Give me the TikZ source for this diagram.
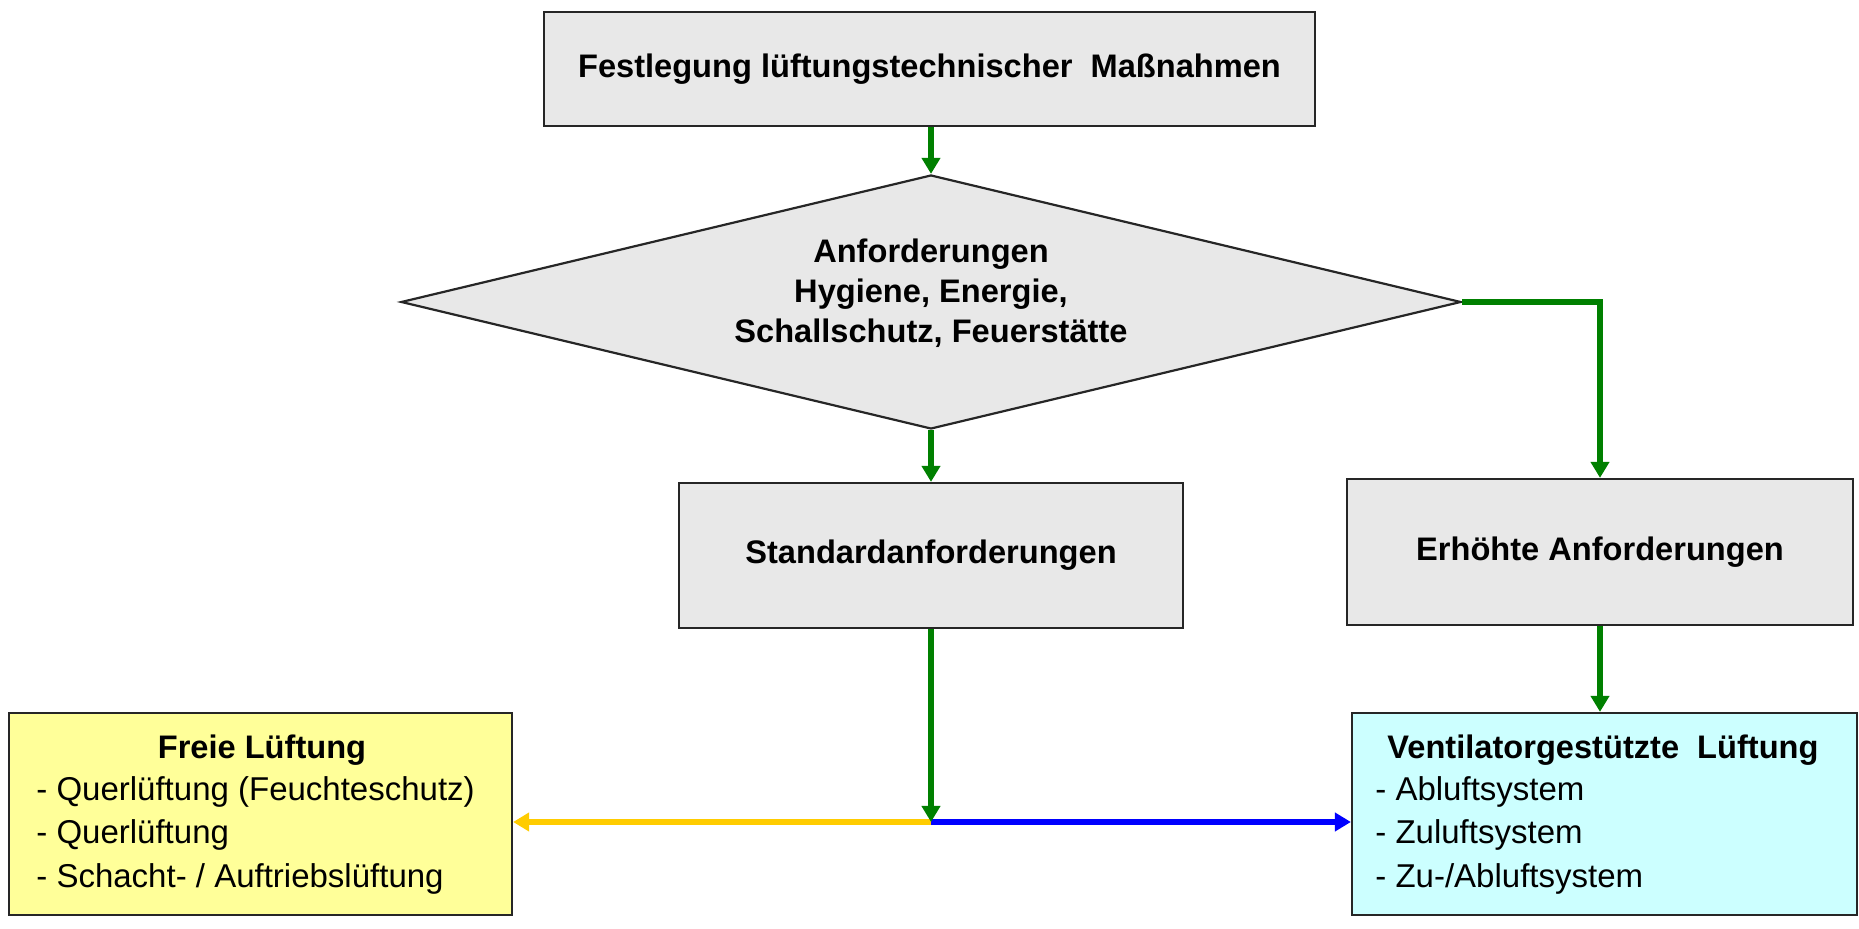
\documentclass[tikz,border=0pt]{standalone}
\usepackage{fontspec}
\setmainfont{Liberation Sans}
\usetikzlibrary{arrows.meta,shapes.geometric}
\definecolor{boxgray}{HTML}{E8E8E8}
\definecolor{boxyellow}{HTML}{FFFF99}
\definecolor{boxcyan}{HTML}{CCFFFF}
\definecolor{arrowgreen}{HTML}{008000}
\definecolor{lineyellow}{HTML}{FFCC00}
\definecolor{lineblue}{HTML}{0000FF}
\tikzset{
  box/.style={draw=black!85, line width=1.1pt, inner sep=0pt, align=center},
  lbl/.style={font=\fontsize{16.3}{20}\selectfont\bfseries, align=center, inner sep=0pt},
  item/.style={font=\fontsize{16.5}{21.75}\selectfont, align=left, inner sep=0pt, anchor=west},
  garrow/.style={draw=arrowgreen, line width=2.6pt, -{Triangle[width=9pt,length=8pt]}},
  yarrow/.style={draw=lineyellow, line width=3pt, -{Triangle[width=9pt,length=8pt]}},
  barrow/.style={draw=lineblue, line width=3pt, -{Triangle[width=9pt,length=8pt]}},
}
\begin{document}
\begin{tikzpicture}[x=0.5pt,y=-0.5pt]
\useasboundingbox (0,0) rectangle (1859,929);
% boxes
\node[box, fill=boxgray, lbl, minimum width=385.5pt, minimum height=57pt] (T) at (929.5,69) {Festlegung lüftungstechnischer\ \ Maßnahmen};
\node[box, fill=boxgray, shape=diamond, minimum width=530pt, minimum height=127pt, aspect=4.17] (D) at (931,302) {};
\node[lbl] (Dt) at (931,293) {Anforderungen\\Hygiene, Energie,\\Schallschutz, Feuerstätte};
\node[box, fill=boxgray, lbl, minimum width=252pt, minimum height=72.5pt] (S) at (931,555.5) {Standardanforderungen};
\node[box, fill=boxgray, lbl, minimum width=253pt, minimum height=73pt] (E) at (1600,552) {Erhöhte Anforderungen};
\node[box, fill=boxyellow, minimum width=251.5pt, minimum height=101pt] (F) at (260.5,814) {};
\node[lbl] (Ft) at (262,750) {Freie Lüftung};
\node[item] (Fl) at (36,835) {- Querlüftung (Feuchteschutz)\\- Querlüftung\\- Schacht- / Auftriebslüftung};
\node[box, fill=boxcyan, minimum width=252.5pt, minimum height=101pt] (V) at (1604.5,814) {};
\node[lbl] (Vt) at (1603,750) {Ventilatorgestützte\ \ Lüftung};
\node[item] (Vl) at (1375,835) {- Abluftsystem\\- Zuluftsystem\\- Zu-/Abluftsystem};
\coordinate (J) at (931,822);
% connectors
\draw[garrow] (D.north |- T.south) -- (D.north);
\draw[garrow] (D.south) -- (S.north);
\draw[garrow] (D.east) -| (E.north);
\draw[garrow] (E.south) -- (E.south |- V.north);
\draw[yarrow] (J) -- (J -| F.east);
\draw[barrow] (J) -- (J -| V.west);
\draw[garrow] (S.south) -- (J);
\end{tikzpicture}
\end{document}
